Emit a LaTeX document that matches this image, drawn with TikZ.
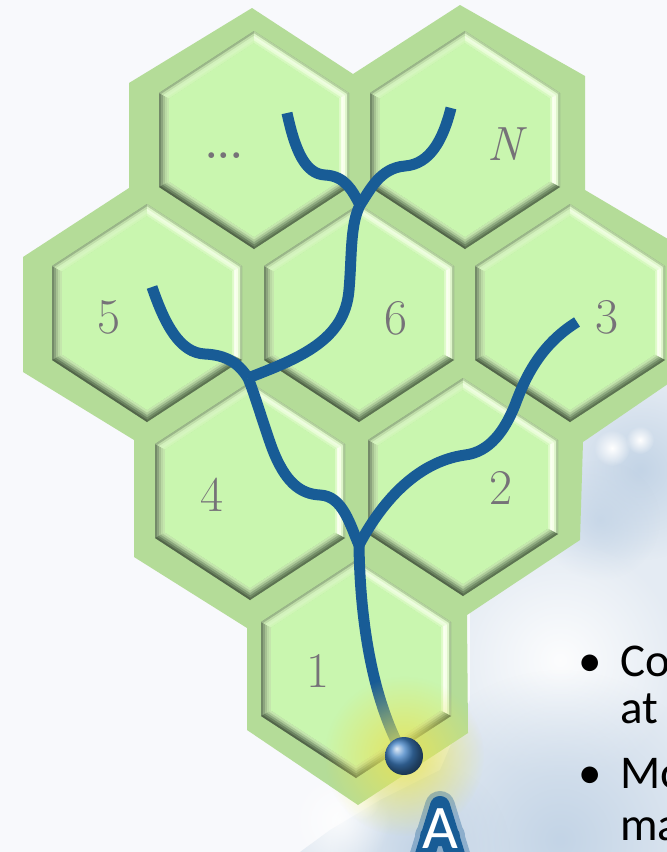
\documentclass[tikz,border=0pt]{standalone}
\usepackage{fontspec}
\newfontfamily\calib{Carlito}
\usetikzlibrary{fadings}

% page and tile colours
\definecolor{pagebg}{HTML}{F8F9FC}
\definecolor{frost}{HTML}{E4EBF3}
\definecolor{frostdk}{HTML}{C3D4E6}
\definecolor{rim}{HTML}{B4DC98}
\definecolor{face}{HTML}{C9F6AF}
\definecolor{riverc}{HTML}{185C96}
\definecolor{lbl}{HTML}{767278}
\definecolor{glowc}{HTML}{E6E35A}
\definecolor{ballc}{HTML}{3F80C4}

% bevel strips, outermost (0) to innermost (4)
\definecolor{bvL0}{HTML}{738A68}\definecolor{bvL1}{HTML}{8CA47E}\definecolor{bvL2}{HTML}{A6C292}\definecolor{bvL3}{HTML}{BAD9A4}\definecolor{bvL4}{HTML}{C4E6AC}
\definecolor{bvTL0}{HTML}{9AB689}\definecolor{bvTL1}{HTML}{BFDDA9}\definecolor{bvTL2}{HTML}{D3F2BD}\definecolor{bvTL3}{HTML}{D6F6C0}\definecolor{bvTL4}{HTML}{D0F6B7}
\definecolor{bvTR0}{HTML}{B4D19F}\definecolor{bvTR1}{HTML}{DDF5C9}\definecolor{bvTR2}{HTML}{EEFDE0}\definecolor{bvTR3}{HTML}{E8FDD6}\definecolor{bvTR4}{HTML}{D6F9BF}
\definecolor{bvR0}{HTML}{A9C696}\definecolor{bvR1}{HTML}{DDF4CA}\definecolor{bvR2}{HTML}{F6FFE8}\definecolor{bvR3}{HTML}{FAFFF0}\definecolor{bvR4}{HTML}{E0FBCB}
\definecolor{bvBR0}{HTML}{5C7451}\definecolor{bvBR1}{HTML}{718B65}\definecolor{bvBR2}{HTML}{8EAA80}\definecolor{bvBR3}{HTML}{AECB9A}\definecolor{bvBR4}{HTML}{C4E6AD}
\definecolor{bvBL0}{HTML}{526649}\definecolor{bvBL1}{HTML}{6B8260}\definecolor{bvBL2}{HTML}{8BA67D}\definecolor{bvBL3}{HTML}{ADCA99}\definecolor{bvBL4}{HTML}{C4E6AD}

\tikzfading[name=softfade, inner color=transparent!0, outer color=transparent!100]

% a bevelled hexagonal cell: name, centre x, centre y
\newcommand\cellhex[3]{%
  \begin{scope}[shift={(#2,#3)}]
    \fill[fill=bvBL2] (0,-109) -- (95,-47) -- (95,47) -- (0,109) -- (-95,47) -- (-95,-47) -- cycle;
    \foreach \da/\k in {0/0,2/1,4/2,6/3,8/4}{
      \pgfmathsetmacro\wa{95-\da}
      \pgfmathsetmacro\sa{47-0.541*\da}
      \pgfmathsetmacro\ha{109-1.193*\da}
      \fill[fill=bvL\k]  (-\wa,\sa) -- (-\wa,-\sa) -- (-85,-41.59) -- (-85,41.59) -- cycle;
      \fill[fill=bvTL\k] (-\wa,-\sa) -- (0,-\ha) -- (0,-97.07) -- (-85,-41.59) -- cycle;
      \fill[fill=bvTR\k] (0,-\ha) -- (\wa,-\sa) -- (85,-41.59) -- (0,-97.07) -- cycle;
      \fill[fill=bvR\k]  (\wa,-\sa) -- (\wa,\sa) -- (85,41.59) -- (85,-41.59) -- cycle;
      \fill[fill=bvBR\k] (\wa,\sa) -- (0,\ha) -- (0,97.07) -- (85,41.59) -- cycle;
      \fill[fill=bvBL\k] (0,\ha) -- (-\wa,\sa) -- (-85,41.59) -- (0,97.07) -- cycle;
    }
    \fill[face] (0,-97.07) -- (85,-41.59) -- (85,41.59) -- (0,97.07) -- (-85,41.59) -- (-85,-41.59) -- cycle;
    \coordinate (#1) at (0,0);
  \end{scope}}

\begin{document}
\begin{tikzpicture}[x=1pt,y=-1pt,
  lab/.style={text=lbl, font=\fontsize{50}{50}\selectfont, anchor=base, inner sep=0pt},
  river/.style={draw=riverc, line width=11pt},
  bullettext/.style={font=\calib\fontsize{47}{47}\selectfont, anchor=base west, inner sep=0pt, text=black},
  bulletmark/.style={font=\calib\fontsize{47}{47}\selectfont, anchor=base, inner sep=0pt, text=black},
  bigA/.style={font=\calib\fontsize{62}{62}\selectfont, anchor=base, inner sep=0pt},
  halo/.style={draw=riverc, line join=round, line cap=round},
  blob/.style={path fading=softfade}
]
\useasboundingbox (0,0) rectangle (667,852);
\clip (0,0) rectangle (667,852);
\fill[pagebg] (0,0) rectangle (667,852);

% frosted backdrop in the lower right
\fill[frost] (575,400) -- (667,380) -- (667,852) -- (300,852) -- (330,830) -- (380,800)
  -- (440,770) -- (470,700) -- (470,600) -- (575,530) -- cycle;
\fill[frostdk, blob] (640,470) circle (90);
\fill[frostdk, blob, opacity=0.8] (600,520) circle (60);
\fill[white, blob, opacity=0.9] (560,660) circle (120);
\fill[frostdk, blob] (560,840) circle (170);
\fill[frostdk, blob] (420,850) circle (90);
\fill[white, blob, opacity=0.8] (340,820) circle (50);
\fill[white, blob] (612,448) circle (18);
\fill[white, blob] (640,440) circle (14);
\fill[white, blob] (360,800) circle (20);

% green rim behind the cells
\fill[rim] (252,8) -- (353,74) -- (460,5) -- (585,76) -- (585,190) -- (700,258)
  -- (700,362) -- (583,442) -- (580,540) -- (467,615) -- (468,733) -- (358,805)
  -- (247,730) -- (247,628) -- (134,557) -- (134,440) -- (23,372) -- (23,257)
  -- (129,188) -- (129,83) -- cycle;

% cells
\cellhex{cdots}{254}{140}
\cellhex{cN}{465}{140}
\cellhex{c5}{147}{313}
\cellhex{c6}{359}{313}
\cellhex{c3}{570}{313}
\cellhex{c4}{250}{491}
\cellhex{c2}{463}{487}
\cellhex{c1}{356}{669}

% cell labels
\node[lab, font=\fontsize{40}{40}\selectfont\bfseries] (ldots) at (224,158) {...};
\node[lab, font=\fontsize{48}{48}\selectfont\itshape] (lN) at (505,160) {N};
\node[lab] (l5) at (109,333) {5};
\node[lab] (l6) at (396,334) {6};
\node[lab] (l3) at (607,333) {3};
\node[lab] (l4) at (212,511) {4};
\node[lab] (l2) at (501,504) {2};
\node[lab] (l1) at (318,687) {1};

% river network
\coordinate (src) at (404,756);
\coordinate (fork1) at (359,545);
\coordinate (fork2) at (248,378);
\coordinate (fork3) at (360,205);
\coordinate (end3) at (577,322);
\coordinate (end5) at (152,287);
\coordinate (endL) at (287,113);
\coordinate (endN) at (451,108);

\draw[river] (src) .. controls (372,700) and (360,620) .. (fork1);
\draw[river] (fork1) .. controls (350,525) and (343,496) .. (320,495)
  .. controls (300,494) and (285,482) .. (272,448)
  .. controls (262,420) and (255,395) .. (fork2);
\draw[river] (fork1) .. controls (380,505) and (415,462) .. (465,455)
  .. controls (490,452) and (505,430) .. (515,405)
  .. controls (525,378) and (540,345) .. (end3);
\draw[river] (fork2) .. controls (300,358) and (345,340) .. (349,290)
  .. controls (352,255) and (350,225) .. (fork3);
\draw[river] (fork2) .. controls (238,362) and (225,355) .. (205,354)
  .. controls (180,353) and (165,325) .. (end5);
\draw[river] (fork3) .. controls (352,190) and (345,176) .. (325,175)
  .. controls (305,174) and (295,150) .. (endL);
\draw[river] (fork3) .. controls (370,190) and (380,168) .. (405,166)
  .. controls (430,164) and (443,140) .. (endN);

% outlet glow and sphere
\fill[glowc, blob, opacity=0.95] (src) circle (80);
\shade[ball color=ballc] (src) circle (19);

% outlet letter on a dark blue halo
\coordinate (Afoot) at (440,848);
\draw[halo, line width=30pt, opacity=0.35] (424,858) -- (440,806) -- (456,858) (430,836) -- (450,836);
\draw[halo, line width=20pt] (424,858) -- (440,806) -- (456,858) (430,836) -- (450,836);
\node[bigA, text=white] (Alab) at (Afoot) {A};

% bullet list at the right edge
\node[bulletmark] (b1) at (590,676) {•};
\node[bullettext] (t1) at (620,676) {Co};
\node[bullettext] (t2) at (620,723) {at};
\node[bulletmark] (b2) at (590,788) {•};
\node[bullettext] (t3) at (620,788) {Mo};
\node[bullettext] (t4) at (620,840) {ma};
\end{tikzpicture}
\end{document}
